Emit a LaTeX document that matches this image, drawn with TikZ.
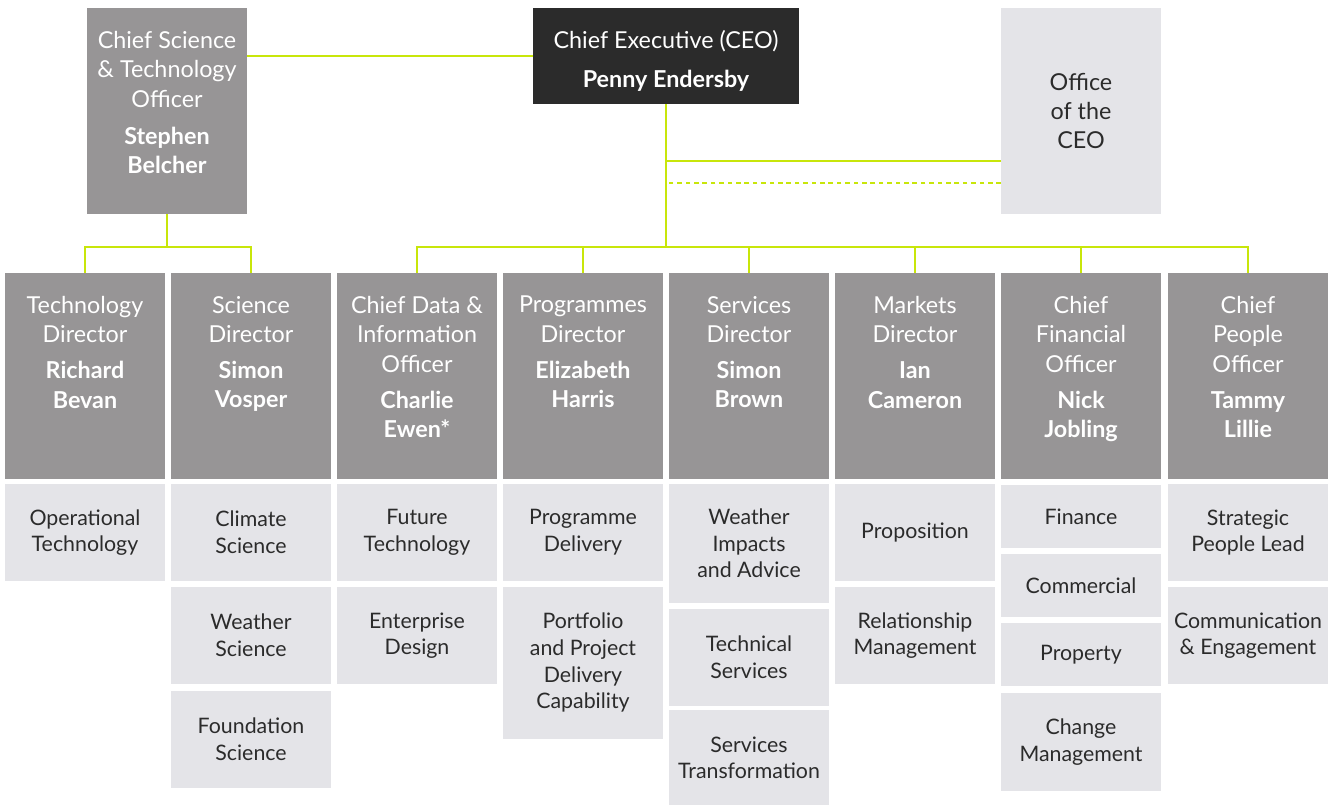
\documentclass[tikz,border=0pt]{standalone}
\usepackage{fontspec}
\setmainfont{Lato}
\usetikzlibrary{calc}

\definecolor{limeline}{HTML}{C8E60A}
\definecolor{headgrey}{HTML}{979596}
\definecolor{ceodark}{HTML}{2B2B2B}
\definecolor{teamgrey}{HTML}{E4E4E8}
\definecolor{inkdark}{HTML}{2B2B2B}
\newcommand{\titlesize}{\fontsize{17.5pt}{22pt}\selectfont}
\newcommand{\teamsize}{\fontsize{16pt}{20pt}\selectfont}

\begin{document}
\begin{tikzpicture}[x=0.75pt,y=-0.75pt]
  \tikzset{head box/.style={fill=#1, inner sep=0pt, outer sep=0pt,
      minimum width=120pt, minimum height=154.5pt, anchor=north},
    head text/.style={anchor=north, align=center, inner sep=0pt,
      text=white, font=\titlesize},
    team box/.style={fill=teamgrey, inner sep=0pt, outer sep=0pt,
      minimum width=120pt, minimum height=#1, anchor=north,
      align=center, text=inkdark, font=\teamsize},
    link line/.style={draw=limeline, line width=2pt}
  }
  \useasboundingbox (0,0) rectangle (1335,805);

  % top row
  \node [head box=headgrey] (csto) at (167,8) {};
  \node [head text] (cstoT) at ($(csto.north)+(0,23)$)
    {Chief Science\\\& Technology\\Officer\\[6pt]\textbf{Stephen}\\\textbf{Belcher}};
  \node [head box=ceodark, minimum width=199.5pt, minimum height=72pt] (ceo) at (666,8) {};
  \node [head text] (ceoT) at ($(ceo.north)+(0,22)$)
    {Chief Executive (CEO)\\[7pt]\textbf{Penny Endersby}};
  \node [head box=teamgrey, text=inkdark, align=center, font=\titlesize] (office) at (1081,8)
    {Office\\of the\\CEO};

  % directors
  \node [head box=headgrey] (tech) at (85,273) {};
  \node [head box=headgrey] (sci) at (251,273) {};
  \node [head box=headgrey] (cdio) at (417,273) {};
  \node [head box=headgrey] (prog) at (583,273) {};
  \node [head box=headgrey] (serv) at (749,273) {};
  \node [head box=headgrey] (mkt) at (915,273) {};
  \node [head box=headgrey] (cfo) at (1081,273) {};
  \node [head box=headgrey] (cpo) at (1248,273) {};

  \node [head text] (techT) at ($(tech.north)+(0,23)$)
    {Technology\\Director\\[5pt]\textbf{Richard}\\\textbf{Bevan}};
  \node [head text] (sciT) at ($(sci.north)+(0,23)$)
    {Science\\Director\\[5pt]\textbf{Simon}\\\textbf{Vosper}};
  \node [head text] (cdioT) at ($(cdio.north)+(0,23)$)
    {Chief Data \&\\Information\\Officer\\[5pt]\textbf{Charlie}\\\textbf{Ewen*}};
  \node [head text] (progT) at ($(prog.north)+(0,23)$)
    {Programmes\\Director\\[5pt]\textbf{Elizabeth}\\\textbf{Harris}};
  \node [head text] (servT) at ($(serv.north)+(0,23)$)
    {Services\\Director\\[5pt]\textbf{Simon}\\\textbf{Brown}};
  \node [head text] (mktT) at ($(mkt.north)+(0,23)$)
    {Markets\\Director\\[5pt]\textbf{Ian}\\\textbf{Cameron}};
  \node [head text] (cfoT) at ($(cfo.north)+(0,23)$)
    {Chief\\Financial\\Officer\\[5pt]\textbf{Nick}\\\textbf{Jobling}};
  \node [head text] (cpoT) at ($(cpo.north)+(0,23)$)
    {Chief\\People\\Officer\\[5pt]\textbf{Tammy}\\\textbf{Lillie}};

  % teams
  \node [team box=72.75pt] (optech) at (85,484) {Operational\\Technology};

  \node [team box=72.75pt] (climate) at (251,484) {Climate\\Science};
  \node [team box=72.75pt] (weather) at (251,587) {Weather\\Science};
  \node [team box=72.75pt] (found) at (251,690.5) {Foundation\\Science};

  \node [team box=72.75pt] (future) at (417,484) {Future\\Technology};
  \node [team box=72.75pt] (enterp) at (417,587) {Enterprise\\Design};

  \node [team box=72.75pt] (progdel) at (583,484) {Programme\\Delivery};
  \node [team box=113.7pt] (portf) at (583,587) {Portfolio\\and Project\\Delivery\\Capability};

  \node [team box=89.25pt] (impacts) at (749,484) {Weather\\Impacts\\and Advice};
  \node [team box=72.75pt] (techserv) at (749,608.6) {Technical\\Services};
  \node [team box=71.25pt] (transf) at (749,710.3) {Services\\Transformation};

  \node [team box=72.75pt] (propos) at (915,484) {Proposition};
  \node [team box=72.75pt] (relat) at (915,587) {Relationship\\Management};

  \node [team box=47.25pt] (finance) at (1081,485) {Finance};
  \node [team box=47.25pt] (commerc) at (1081,554) {Commercial};
  \node [team box=47.25pt] (property) at (1081,623) {Property};
  \node [team box=73.5pt] (change) at (1081,693) {Change\\Management};

  \node [team box=72.75pt] (strat) at (1248,484) {Strategic\\People Lead};
  \node [team box=72.75pt] (comms) at (1248,587) {Communication\\\& Engagement};

  % links
  \coordinate (bus) at ($(ceo.south |- cdio.north)+(0,-26)$);
  \coordinate (sbus) at (csto.south |- bus);
  \coordinate (solid) at ($(office.west)+(0,50)$);
  \coordinate (dotted) at ($(office.west)+(0,72)$);

  \draw [link line] (ceo.west) -- (ceo.west -| csto.east);
  \draw [link line] (ceo.south) -- (bus);
  \draw [link line] (cdio.north) |- (bus) -| (cpo.north);
  \foreach \n in {prog,serv,mkt,cfo}
    \draw [link line] (\n.north) -- (\n.north |- bus);
  \draw [link line] (solid) -- (solid -| ceo.south);
  \draw [link line, dash pattern=on 3.5pt off 2.8pt] (dotted) -- (dotted -| ceo.south);
  \draw [link line] (csto.south) -- (sbus);
  \draw [link line] (tech.north) |- (sbus) -| (sci.north);

\end{tikzpicture}
\end{document}
